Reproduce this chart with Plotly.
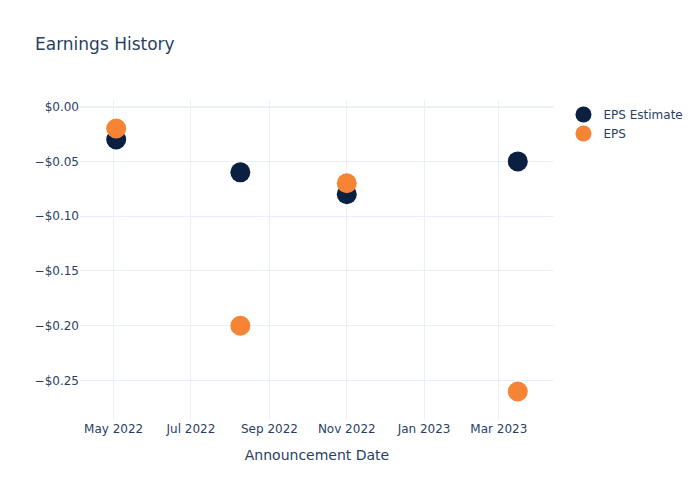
import plotly.graph_objects as go

dates = ["2022-05-03", "2022-08-09", "2022-11-01", "2023-03-16"]
eps_estimate = [-0.03, -0.06, -0.08, -0.05]
eps_actual = [-0.02, -0.20, -0.07, -0.26]

fig = go.Figure()
fig.add_trace(go.Scatter(x=dates, y=eps_estimate, mode="markers", name="EPS Estimate",
                         marker=dict(color="#0b1f40", size=20)))
fig.add_trace(go.Scatter(x=dates, y=eps_actual, mode="markers", name="EPS",
                         marker=dict(color="#f58535", size=20)))
fig.update_layout(
    template="plotly_white",
    width=700, height=500,
    font=dict(family="DejaVu Sans"),
    title=dict(text="Earnings History"),
    xaxis=dict(title=dict(text="Announcement Date")),
    yaxis=dict(tickformat="$.2f"),
)
fig.write_html("out.html")
